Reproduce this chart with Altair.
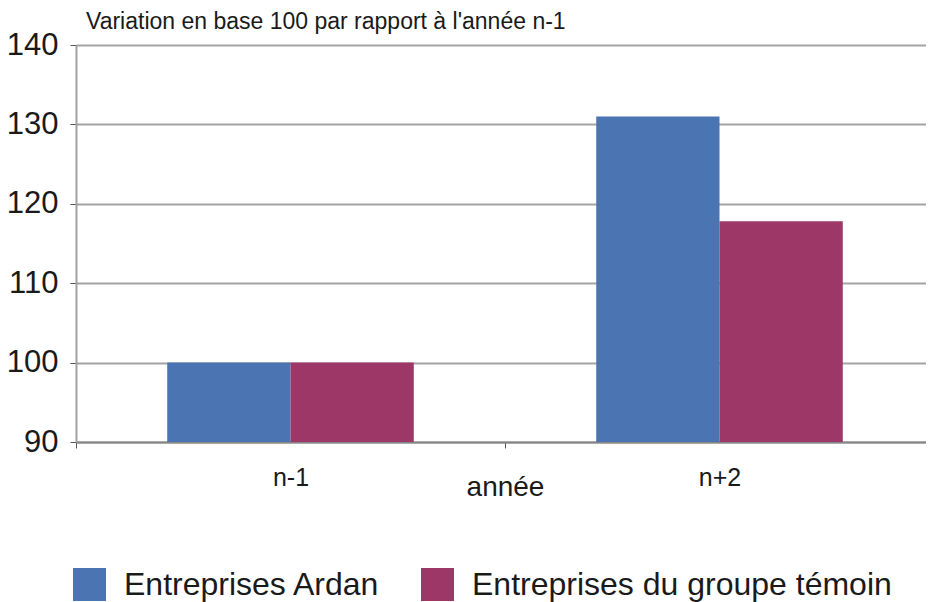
import altair as alt
import pandas as pd

annees = ["n-1", "n+2"]
series = ["Entreprises Ardan", "Entreprises du groupe témoin"]
ardan = [100, 131]
temoin = [100, 117.8]
couleurs = ["#4b75b2", "#9d3768"]
y_ticks = [90, 100, 110, 120, 130, 140]

rows = []
for i, a in enumerate(annees):
    rows.append({"annee": a, "serie": series[0], "valeur": ardan[i]})
    rows.append({"annee": a, "serie": series[1], "valeur": temoin[i]})
df = pd.DataFrame(rows)

FONT = "Liberation Sans"
TXT = "#1a1a1a"

chart = alt.Chart(df).mark_bar().encode(
    x=alt.X(
        "annee:N",
        sort=annees,
        scale=alt.Scale(paddingInner=0, paddingOuter=0, range=[0, 858]),
        axis=alt.Axis(
            title="année",
            labelAngle=0,
            labelFontSize=25,
            labelColor=TXT,
            labelFont=FONT,
            labelPadding=17,
            tickBand="extent",
            tickSize=6,
            tickColor="#555555",
            tickWidth=1,
            domainColor="#858585",
            domainWidth=2,
            titleFontSize=28,
            titleFont=FONT,
            titleFontWeight="normal",
            titleColor=TXT,
            titleBaseline="middle",
            titleX=429,
            titleY=45,
            grid=False,
        ),
    ),
    xOffset=alt.XOffset("serie:N", sort=series, scale=alt.Scale(paddingInner=0, paddingOuter=0.74)),
    y=alt.Y(
        "valeur:Q",
        scale=alt.Scale(domain=[90, 140], zero=False, nice=False),
        axis=alt.Axis(
            title=None,
            values=y_ticks,
            labelFontSize=31,
            labelColor=TXT,
            labelFont=FONT,
            labelPadding=12,
            tickSize=6,
            tickColor="#555555",
            tickWidth=1,
            domainColor="#a0a0a0",
            domainWidth=2,
            gridColor="#a3a3a3",
            gridWidth=2,
        ),
    ),
    y2=alt.datum(90),
    color=alt.Color(
        "serie:N",
        sort=series,
        scale=alt.Scale(domain=series, range=couleurs),
        legend=alt.Legend(
            title=None,
            orient="none",
            direction="horizontal",
            legendX=-3,
            legendY=523,
            padding=0,
            symbolType="square",
            symbolSize=1089,
            symbolStrokeWidth=0,
            symbolOpacity=1,
            labelFontSize=32,
            labelFont=FONT,
            labelColor=TXT,
            labelOffset=18,
            columnPadding=40,
            labelLimit=600,
        ),
    ),
).properties(
    width=850,
    height=397,
    autosize="none",
    padding={"left": 68, "top": 37, "right": 0, "bottom": 160},
    title=alt.TitleParams(
        text="Variation en base 100 par rapport à l'année n-1",
        anchor="start",
        frame="group",
        dx=10,
        dy=23,
        offset=18,
        fontSize=23,
        font=FONT,
        fontWeight="normal",
        color=TXT,
    ),
).configure_view(stroke=None).configure_axis(domainCap="butt")

chart.save("out.html", embed_options={"renderer": "svg", "actions": False})
